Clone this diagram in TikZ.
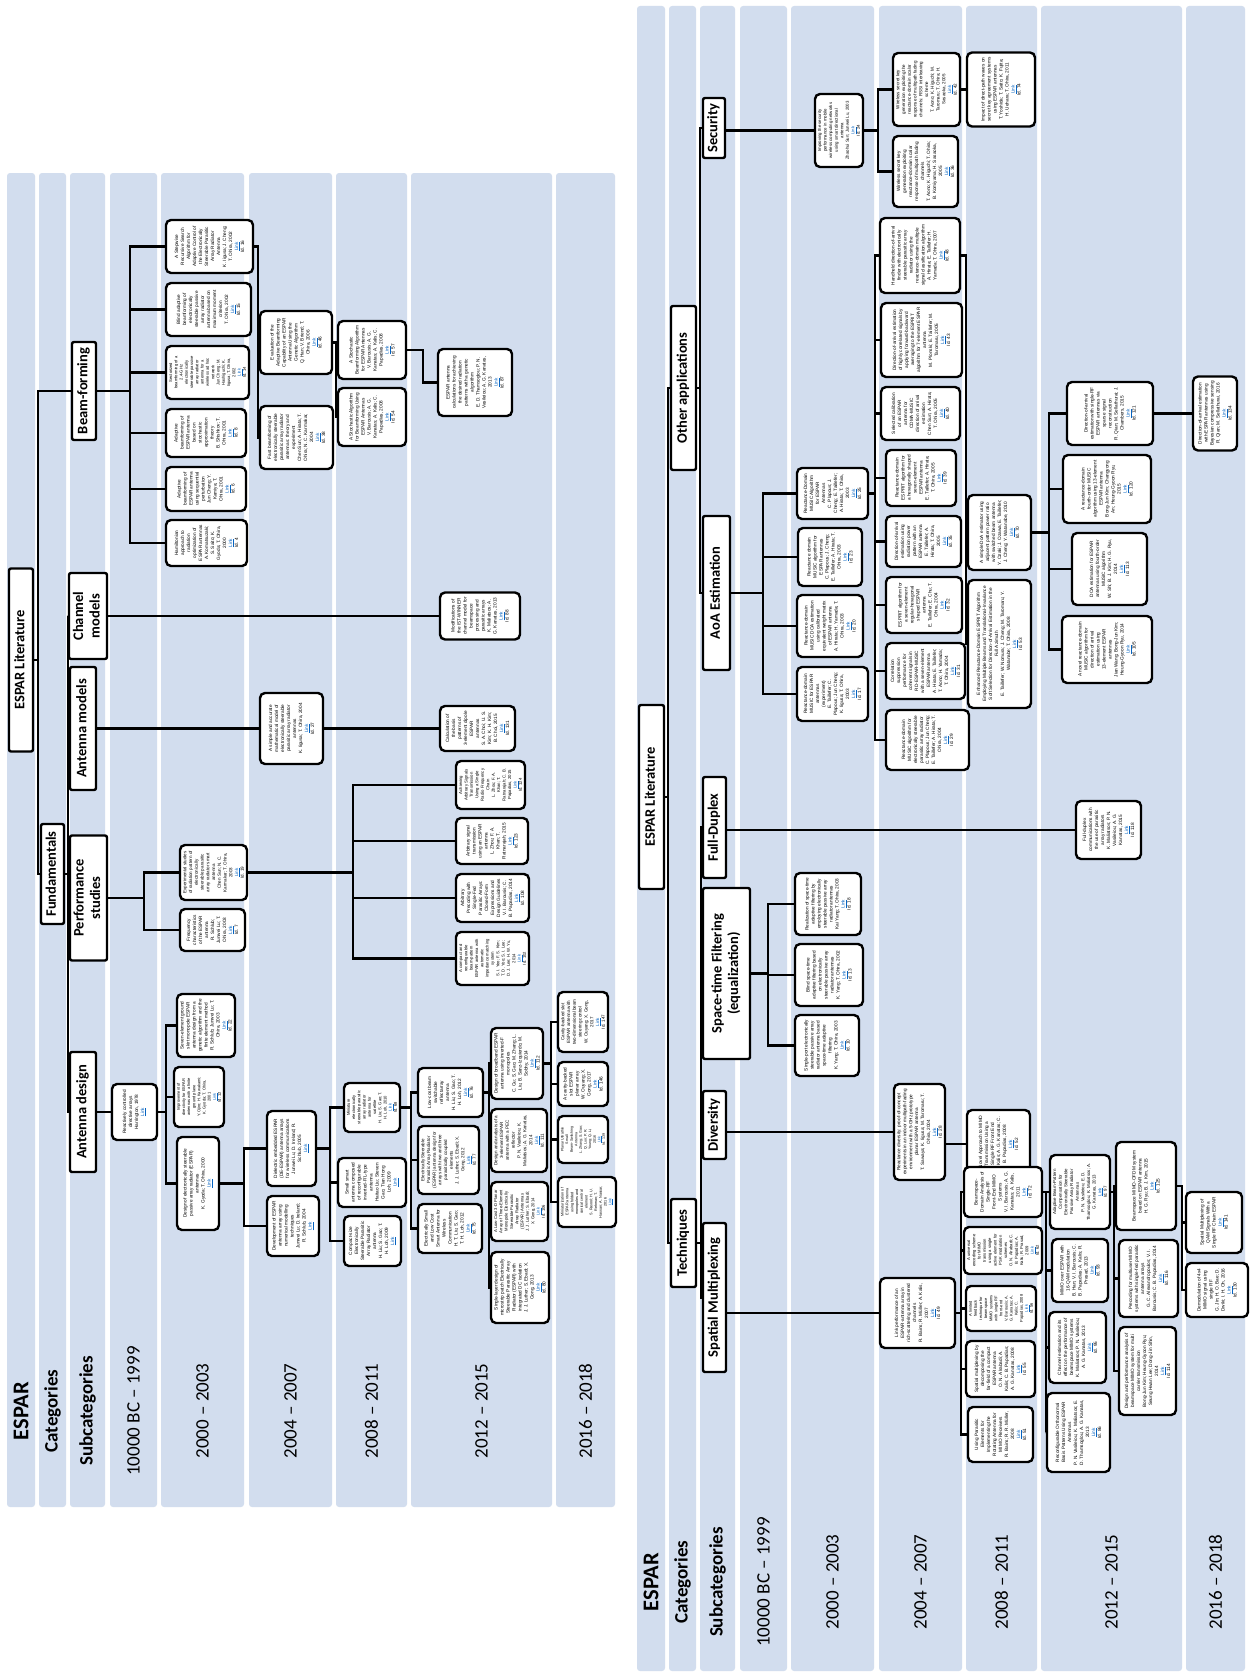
\documentclass[tikz,border=0pt]{standalone}
\usepackage{fontspec}
\setmainfont{Liberation Sans}
\newfontfamily\calib{Carlito}
\usepackage{graphicx}
\definecolor{stripblue}{RGB}{210,221,238}
\definecolor{linkblue}{RGB}{5,99,193}
\newcommand{\leaffont}{\fontsize{4.7}{6.0}\selectfont}
\newsavebox{\pubsbox}
\newcommand{\pubbox}[8]{%
\node[leaf,minimum width=#4,minimum height=#5] (#1) at (#2,#3) {%
\sbox{\pubsbox}{\parbox{\dimexpr #5pt-9pt\relax}{\centering\leaffont #6\par #7\par\textcolor{linkblue}{\underline{Link}}\par #8}}%
\ifdim\dimexpr\ht\pubsbox+\dp\pubsbox\relax>\dimexpr #4pt-6pt\relax
\sbox{\pubsbox}{\resizebox*{!}{\dimexpr #4pt-6pt\relax}{\usebox{\pubsbox}}}\fi
\rotatebox{90}{\usebox{\pubsbox}}};}
\newcommand{\hdrbox}[6]{\node[hdr,minimum width=#4,minimum height=#5] (#1) at (#2,#3) {\rotatebox{90}{\begin{tabular}{@{}c@{}}#6\end{tabular}}};}
\newcommand{\branch}[3]{\foreach \ch in {#3}{\draw[conn] (#1.east) -- ++(#2,0) |- (\ch.west);}}
\newcommand{\straight}[2]{\draw[conn] (#2.west) -- (#2.west -| #1.east);}
\newcommand{\strips}[3]{\foreach \a/\b in {7/35,39/66,70/105,110/157,161/244,249/332,336/407,411/552,556/615}{\fill[stripblue,rounded corners=3] (\a+#1,#2) rectangle (\b+#1,#3);}}
\newcommand{\labels}[2]{%
\node[lblbig] (espar#1) at (21+#1,#2) {ESPAR};
\node[lblbold] (cat#1) at (52.5+#1,#2) {Categories};
\node[lblbold] (sub#1) at (87.5+#1,#2) {Subcategories};
\node[lblyear] (y0#1) at (133.5+#1,#2) {10000 BC – 1999};
\node[lblyear] (y1#1) at (202.5+#1,#2) {2000 – 2003};
\node[lblyear] (y2#1) at (290.5+#1,#2) {2004 – 2007};
\node[lblyear] (y3#1) at (371.5+#1,#2) {2008 – 2011};
\node[lblyear] (y4#1) at (481.5+#1,#2) {2012 – 2015};
\node[lblyear] (y5#1) at (585.5+#1,#2) {2016 – 2018};}
\tikzset{
 leaf/.style={draw,line width=2.4,rounded corners=5,fill=white,inner sep=0pt},
 hdr/.style={draw,line width=2.4,rounded corners=2,fill=white,inner sep=0pt,font=\calib\bfseries\fontsize{14.5}{16.5}\selectfont},
 conn/.style={line width=2.2},
 lblbig/.style={rotate=90,inner sep=0pt,font=\calib\bfseries\fontsize{22.5}{24}\selectfont},
 lblbold/.style={rotate=90,inner sep=0pt,font=\calib\bfseries\fontsize{19}{21}\selectfont},
 lblyear/.style={rotate=90,inner sep=0pt,font=\calib\fontsize{19}{21}\selectfont}
}
\begin{document}
\begin{tikzpicture}[x=1pt,y=-1pt]
\useasboundingbox (0,0) rectangle (1258,1675);
\fill[white] (0,0) rectangle (1258,1675);
\strips{0}{173}{1507}
\strips{630}{6}{1671}
\labels{0}{1411}
\labels{630}{1582}

% ---------------- LEFT PANEL ----------------
\hdrbox{L0}{21}{660}{24}{183}{ESPAR Literature}
\hdrbox{Lfund}{52.5}{874}{23}{100}{Fundamentals}
\hdrbox{Lbeam}{84}{391}{24}{98}{Beam-forming}
\hdrbox{Lchan}{88}{616}{38}{86}{Channel\\models}
\hdrbox{Lantm}{83}{728.5}{26}{123}{Antenna models}
\hdrbox{Lperf}{88.5}{898}{37}{125}{Performance\\studies}
\hdrbox{Ldes}{83}{1112}{26}{120}{Antenna design}

\pubbox{b16}{209.5}{246.5}{87}{53}{A Stepwise Recursive Search Algorithm for Adaptive Control of the Electronically Steerable Parasitic Array Radiator Antenna}{K. Iigusa; J. Cheng; T. Ohira, 2002}{Id. 16}
\pubbox{b15}{208.5}{309.5}{85}{53}{Blind adaptive beamforming of electronically steerable passive array radiator antenna based on maximum moment criterion}{T. Ohira, 2002}{Id. 15}
\pubbox{b14}{207.5}{372.5}{83}{53}{Sectorized beamforming of a 2.4-GHz electronically steerable passive array radiator antenna for a wireless ad hoc network}{Jun Cheng; M. Hashiguchi; K. Iigusa; T. Ohira, 2002}{Id. 14}
\pubbox{b8}{206}{433}{80}{48}{Adaptive beamforming of ESPAR antenna based on stochastic approximation theory}{B. Shishkov; T. Ohira, 2001}{Id. 8}
\pubbox{b6}{206}{489}{80}{44}{Adaptive beamforming of ESPAR antenna using sequential perturbation}{Jun Cheng; Y. Kamiya; T. Ohira, 2001}{Id. 6}
\pubbox{b4}{206.5}{543}{81}{46}{Hamiltonian approach to radiation optimization of ESPAR antennas}{A. Komatsuzaki; S. Saito; K. Gyoda; T. Ohira, 2000}{Id. 4}
\pubbox{b46}{296}{342.5}{72}{63}{Evaluation of the Adaptive Beamforming Capability of an ESPAR Antenna Using the Genetic Algorithm}{Q. Han; V. Briend; T. Ohira, 2006}{Id. 46}
\pubbox{b38}{296.5}{437.5}{73}{63}{Fast beamforming of electronically steerable parasitic array radiator antennas: theory and experiment}{Chen Sun; A. Hirata; T. Ohira; N. C. Karmakar, 2004}{Id. 38}
\pubbox{b57}{372}{350}{68}{58}{A Stochastic Beamforming Algorithm for ESPAR Antennas}{V. Barousis; A. G. Kanatas; A. Kalis; C. Papadias, 2008}{Id. 57}
\pubbox{b54}{372}{417}{68}{58}{A Stochastic Algorithm for Beamforming Using ESPAR Antennas}{V. Barousis; A. G. Kanatas; A. Kalis; C. Papadias, 2008}{Id. 54}
\pubbox{b87}{475}{382.5}{74}{67}{ESPAR antenna calculations for achieving the desired radiation patterns with a genetic algorithm}{E. D. Thamsoglou; P. N. Vasileiou; A. G. Kanatas, 2013}{Id. 87}

\pubbox{c88}{480}{616}{80}{47}{Modifications of the IST-WINNER channel model for beamspace processing and parasitic arrays}{K. Maliatsos; A. G. Kanatas, 2013}{Id. 88}

\pubbox{m27}{291.5}{728.5}{63}{71}{A simple and accurate mathematical model of electronically steerable parasitic array radiator antennas}{K. Iigusa; T. Ohira, 2004}{Id. 27}
\pubbox{m131}{477.5}{728.5}{75}{45}{Calculation of the basis patterns of 3-element dipole ESPAR antennas}{S. A. Choi; U. S. Kim; K. H. Kim; B. Choi, 2015}{Id. 131}

\pubbox{p19}{213.5}{872.5}{67}{55}{Experimental studies of radiation pattern of electronically steerable parasitic array radiator smart antenna}{Chen Sun; N. C. Karmakar; T. Ohira, 2003}{Id. 19}
\pubbox{p7}{212.5}{930}{65}{42}{Frequency characteristics of the ESPAR antenna}{R. Schlub; Junwei Lu; T. Ohira, 2003}{Id. 7}
\pubbox{p124}{490.5}{785}{69}{48}{Achieving Arbitrary Signals Transmission Using a Single Radio Frequency Chain}{L. Zhou; F. A. Khan; T. Ratnarajah; C. B. Papadias, 2015}{Id. 124}
\pubbox{p123}{492}{841}{72}{46}{Arbitrary signal transmission using an ESPAR antenna}{L. Zhou; F. A. Khan; T. Ratnarajah, 2015}{Id. 123}
\pubbox{p108}{492.5}{898}{73}{48}{Arbitrary Precoding with Single-Fed Parasitic Arrays: Closed-Form Expressions and Design Guidelines}{V. I. Barousis; C. B. Papadias, 2014}{Id. 108}
\pubbox{p102}{492.5}{958.5}{73}{53}{A compact and reconfigurable beam-pattern ESPAR antenna with automatic impedance matching system}{S. I. Yeo; F. S. Kim; T. D. Yoo; S. I. Lee; D. J. Lee; H. W. Yu, 2014}{Id. 102}

\pubbox{d0}{134.5}{1112}{45}{56}{Reactively controlled directive arrays}{Harrington, 1978}{}
\pubbox{d22}{206}{1025.5}{58}{63}{Seven-element ground skirt monopole ESPAR antenna design from a genetic algorithm and the finite element method}{R. Schlub; Junwei Lu; T. Ohira, 2003}{Id. 22}
\pubbox{d12}{199}{1097}{50}{60}{Improvement of directivity for ESPAR antennas with a finite ground plane}{Y. Ojiro; H. Kawakami; K. Gyoda; T. Ohira, 2001}{Id. 12}
\pubbox{d1}{198}{1183.5}{42}{93}{Design of electronically steerable passive array radiator (ESPAR) antennas}{K. Gyoda; T. Ohira, 2000}{}
\pubbox{d2a}{291.5}{1148.5}{49}{75}{Dielectric embedded ESPAR (DE-ESPAR) antenna arrays for wireless communications}{Junwei Lu; D. Ireland; R. Schlub, 2005}{}
\pubbox{d2b}{293}{1226}{52}{60}{Development of ESPAR antenna array using numerical modelling techniques}{Junwei Lu; D. Ireland; R. Schlub, 2004}{}
\pubbox{d68}{372}{1107.5}{56}{49}{Miniature electronically steerable parasitic array radiator antenna for satellite}{H. Liu; S. Gao; T. H. Loh, 2010}{Id. 68}
\pubbox{d3b}{372}{1182.5}{68}{49}{Small smart antenna composed of reconfigurable inverted-F/L-type antenna}{Haitao Liu; Steven Gao; Tian Hong Loh, 2009}{}
\pubbox{d3c}{372.5}{1241}{57}{50}{Compact-size Electronically Steerable Parasitic Array Radiator antenna}{H. Liu; S. Gao; T. H. Loh, 2009}{}
\pubbox{d76}{450.5}{1092.5}{65}{49}{Low-cost beam switchable reflectarray antenna}{H. Liu; S. Gao; T. H. Loh, 2012}{Id. 76}
\pubbox{d77}{448.5}{1160}{61}{68}{Electrically Steerable Parasitic Array Radiator (ESPAR) antenna design for arrays with two and three parasitically coupled elements}{J. J. Luther; S. Ebadi; X. Gong, 2012}{Id. 77}
\pubbox{d75}{450}{1228.5}{64}{49}{Electrically Small and Low Cost Smart Antenna for Wireless Communication}{H. T. Liu; S. Gao; T. H. Loh, 2012}{Id. 75}
\pubbox{d112}{517}{1063.5}{52}{71}{Design of broadband ESPAR antenna using inverted-F monopoles}{C. Gu; S. Gao; M. Zhang; L. Liu; B. Sanz-Izquierdo; M. Sobhy, 2014}{Id. 112}
\pubbox{d111}{519}{1140.5}{56}{63}{Design and analysis of a 3-element ESPAR antenna with a PEC reflector}{P. N. Vasileiou; K. Maliatsos; A. G. Kanatas, 2014}{Id. 111}
\pubbox{d106}{519.5}{1211.5}{57}{59}{A Low-Cost 3-D Planar Array of Three-Element Monopole Electrically Steerable Parasitic Array Radiator (ESPAR) Antennas}{J. J. Luther; S. Ebadi; X. Gong, 2014}{Id. 106}
\pubbox{d80}{520}{1287.5}{58}{71}{Single-layer design of microstrip patch Electrically Steerable Parasitic Array Radiator (ESPAR) with integrated DC isolation}{J. J. Luther; S. Ebadi; X. Gong, 2013}{Id. 80}
\pubbox{d147}{583}{1022}{50}{60}{Cavity-backed slot ESPAR antenna with two-dimensional beam steering control}{W. Ouyang; X. Gong, 2017}{Id. 147}
\pubbox{d146}{583}{1084}{50}{44}{A cavity-backed slot ESPAR planar array}{W. Ouyang; X. Gong, 2017}{Id. 146}
\pubbox{d139}{583}{1139.5}{50}{47}{Planar Ultrathin Small Beam-Switching Antenna}{L. Zhang; S. Gao; Q. Luo; P. R. Young; Q. Li, 2016}{Id. 139}
\pubbox{dmini}{587}{1202}{58}{50}{Miniaturization of ESPAR antenna using folded monopoles and conical central element}{S. Rasool; H. U. Rehman; T. Hassan; A. Nassar, 2016}{}

% left connectors
\branch{L0}{4}{Lbeam,Lfund}
\branch{Lfund}{3}{Lchan,Lantm,Lperf,Ldes}
\branch{Lbeam}{33}{b16,b15,b14,b8,b6,b4}
\branch{b16}{4}{b46,b38}
\branch{b46}{2.5}{b57,b54}
\branch{b57}{16}{b87}
\straight{Lchan}{c88}
\straight{Lantm}{m27}
\straight{m27}{m131}
\branch{Lperf}{36}{p19,p7}
\branch{p19}{105}{p124,p123,p108,p102}
\straight{Ldes}{d0}
\branch{d0}{8}{d22,d12,d1}
\branch{d1}{24}{d2a,d2b}
\branch{d2a}{13}{d68,d3b,d3c}
\branch{d68}{10}{d76,d77,d75}
\branch{d76}{5}{d112,d111,d106,d80}
\branch{d112}{7}{d147,d146,d139,dmini}

% ---------------- RIGHT PANEL ----------------
\hdrbox{R0}{651.5}{797}{25}{184}{ESPAR Literature}
\hdrbox{Rtech}{683.5}{1243}{25}{88}{Techniques}
\hdrbox{Roth}{683.5}{388}{25}{164}{Other applications}
\hdrbox{Rsec}{714}{128}{22}{60}{Security}
\hdrbox{Raoa}{716.5}{593}{27}{154}{AoA Estimation}
\hdrbox{Rfd}{714.5}{827.5}{23}{101}{Full-Duplex}
\hdrbox{Rstf}{726.5}{973.5}{47}{171}{Space-time Filtering\\(equalization)}
\hdrbox{Rdiv}{714.5}{1125}{23}{68}{Diversity}
\hdrbox{Rsm}{714.5}{1297.5}{23}{149}{Spatial Multiplexing}

\pubbox{s34}{839}{130.5}{48}{73}{Improving the security performance in mobile wireless computing networks using smart directional antenna}{Zhaohui Sun; Junwei Lu, 2003}{Id. 24}
\pubbox{s42}{926.5}{89.5}{67}{73}{Wireless secret key generation exploiting the reactance-domain scalar response of multipath fading channels: RSSI interleaving scheme}{T. Aono; K. Higuchi; M. Taromaru; T. Ohira; H. Sasaoka, 2005}{Id. 42}
\pubbox{s36}{925.5}{171.5}{65}{71}{Wireless secret key generation exploiting reactance-domain scalar response of multipath fading channels}{T. Aono; K. Higuchi; T. Ohira; B. Komiyama; H. Sasaoka, 2005}{Id. 36}
\pubbox{s74}{1001}{89.5}{68}{74}{Impact of direct-path waves on secret key agreement systems using ESPAR antennas}{T. Yoshida; T. Saito; K. Fujita; H. Uehara; T. Ohira, 2011}{Id. 74}

\pubbox{a25}{832.5}{493.5}{71}{51}{Reactance-Domain MUSIC Algorithm for ESPAR Antennas}{C. Plapous; J. Cheng; E. Taillefer; A. Hirata; T. Ohira, 2003}{Id. 25}
\pubbox{a23}{830}{557}{64}{58}{Reactance domain MUSIC algorithm for ESPAR antennas}{C. Plapous; J. Cheng; E. Taillefer; A. Hirata; T. Ohira, 2003}{Id. 23}
\pubbox{a20}{830}{626}{66}{62}{Reactance-domain MUSIC DOA estimation using calibrated equivalent weight matrix of ESPAR antenna}{A. Hirata; H. Yamada; T. Ohira, 2003}{Id. 20}
\pubbox{a17}{832.5}{694}{71}{54}{Reactance-domain MUSIC for ESPAR antennas (experiment)}{E. Taillefer; C. Plapous; Jun Cheng; K. Iigusa; T. Ohira, 2003}{Id. 17}
\pubbox{a48}{920}{255.5}{80}{75}{Handheld direction-of-arrival finder with electronically steerable parasitic array radiator using the reactance-domain multiple signal classification algorithm}{A. Hirata; E. Taillefer; H. Yamada; T. Ohira, 2007}{Id. 48}
\pubbox{a43}{921.5}{340}{81}{74}{Direction-of-arrival estimation of highly correlated signals by applying forward-backward averaging to the ESPRIT algorithm for 7-element ESPAR antenna}{M. Plonski; E. Taillefer; M. Taromaru, 2005}{Id. 43}
\pubbox{a40}{920.5}{413.5}{79}{53}{Selected calibration of an ESPAR antenna for CDMA-MUSIC direction of arrival estimation}{Chen Sun; A. Hirata; T. Ohira, 2005}{Id. 40}
\pubbox{a39}{921}{478}{70}{56}{Reactance-domain ESPRIT algorithm for a hexagonally shaped seven-element ESPAR antenna}{E. Taillefer; A. Hirata; T. Ohira, 2005}{Id. 39}
\pubbox{a35}{923.5}{541.5}{75}{51}{Direction-of-arrival estimation using radiation power pattern with an ESPAR antenna}{E. Taillefer; A. Hirata; T. Ohira, 2005}{Id. 35}
\pubbox{a32}{924}{605}{76}{56}{ESPRIT algorithm for a seven-element regular-hexagonal shaped ESPAR antenna}{E. Taillefer; E. Chu; T. Ohira, 2004}{Id. 32}
\pubbox{a31}{925.5}{671}{79}{56}{Correlation suppression performance for coherent signals in RD-ESPAR-MUSIC with a seven-element ESPAR antenna}{A. Hirata; E. Taillefer; T. Aono; H. Yamada; T. Ohira, 2004}{Id. 31}
\pubbox{a29}{927.5}{740}{83}{60}{Reactance-domain MUSIC algorithm for electronically steerable parasitic array radiator}{C. Plapous; Jun Cheng; E. Taillefer; A. Hirata; T. Ohira, 2004}{Id. 29}
\pubbox{a70}{999.5}{532.5}{63}{75}{A simple DoA estimator using adjacent pattern power ratio with switched beam antenna}{Y. Ozaki; J. Ozawa; E. Taillefer; J. Cheng; Y. Watanabe, 2010}{Id. 70}
\pubbox{a53}{999.5}{644}{63}{128}{Enhanced Reactance-Domain ESPRIT Algorithm Employing Multiple Beams and Translational-Invariance Soft Selection for Direction-of-Arrival Estimation in the Full Azimuth}{E. Taillefer; W. Nomura; J. Cheng; M. Taromaru; Y. Watanabe; T. Ohira, 2008}{Id. 53}
\pubbox{a121}{1110}{413.5}{86}{63}{Direction-of-arrival estimation with single-RF ESPAR antennas via sparse signal reconstruction}{R. Qian; M. Sellathurai; J. Chambers, 2015}{Id. 121}
\pubbox{a120}{1107}{489}{88}{68}{A reactance-domain fourth-order MUSIC algorithm using 13-element ESPAR antenna}{Bong-Jun Kim; Changyong An; Heung-Gyoon Ryu, 2015}{Id. 120}
\pubbox{a113}{1109.5}{569}{75}{72}{DOA estimation for ESPAR antennas using fourth-order MUSIC algorithm}{W. Shi; B. J. Kim; H. G. Ryu, 2014}{Id. 113}
\pubbox{a105}{1107}{649.5}{90}{67}{A novel reactance-domain MUSIC algorithm for direction of arrival estimation using 13-element ESPAR antennas}{Jian Wang; Bong-Jun Kim; Heung-Gyoon Ryu, 2014}{Id. 105}
\pubbox{a134}{1215}{413.5}{44}{74}{Direction-of-arrival estimation with ESPAR antennas using Bayesian compressive sensing}{R. Qian; M. Sellathurai, 2016}{Id. 134}

\pubbox{f118}{1108.5}{830}{65}{58}{Full-duplex communications with the use of parasitic array radiators}{K. Maliatsos; P. N. Vasileiou; A. G. Kanatas, 2015}{Id. 118}

\pubbox{t18}{828}{904}{66}{62}{Realization of space-time adaptive filtering by employing electronically steerable passive array radiator antennas}{Kai Yang; T. Ohira, 2003}{Id. 18}
\pubbox{t13}{829}{975}{68}{62}{Blind space-time adaptive filtering based on electronically steerable passive array radiator antennas}{K. Yang; T. Ohira, 2002}{Id. 13}
\pubbox{t10}{827}{1045.5}{64}{61}{Single-port electronically steerable passive array radiator antenna based space-time adaptive filtering}{K. Yang; T. Ohira, 2003}{Id. 10}

\pubbox{v28}{919.5}{1132}{51}{96}{Reactance diversity: proof-of-concept experiments in an indoor multipath-fading environment with a 5-GHz prototype planar ESPAR antenna}{T. Sawaya; K. Iigusa; M. Taromaru; T. Ohira, 2004}{Id. 28}
\pubbox{v52}{998.5}{1144}{63}{68}{A Novel Approach to MIMO Transmission Using a Single RF Front End}{A. Kalis; A. G. Kanatas; C. B. Papadias, 2008}{Id. 52}

\pubbox{x49}{917.5}{1313}{75}{70}{Link performance of an ESPAR-antenna array in rich-scattering and clustered channels}{R. Bains; R. Müller; A. Kalis, 2007}{Id. 49}
\pubbox{x72}{1003}{1192}{78}{50}{Beamspace-Domain Analysis of Single-RF Front-End MIMO Systems}{V. I. Barousis; A. G. Kanatas; A. Kalis, 2011}{Id. 72}
\pubbox{x62}{1003}{1250.5}{78}{47}{A universal encoding scheme for MIMO transmission using a single active element for PSK modulation schemes}{O. N. Alrabadi; C. B. Papadias; A. Kalis; R. Prasad, 2009}{Id. 62}
\pubbox{x56}{1001}{1308.5}{70}{45}{A limited feedback technique for beamspace MIMO systems with single RF front-end}{V. Barousis; A. G. Kanatas; A. Kalis; C. Papadias, 2008}{Id. 56}
\pubbox{x55}{1000.5}{1369}{69}{56}{Spatial multiplexing by decomposing the far-field of a compact ESPAR antenna}{O. N. Alrabadi; A. Kalis; C. B. Papadias; A. G. Kanatas, 2008}{Id. 55}
\pubbox{x51}{1000.5}{1434.5}{65}{55}{Using Parasitic Elements for Implementing the Rotating Antenna for MIMO Receivers}{R. Bains; R. R. Müller, 2008}{Id. 51}
\pubbox{x97}{1080}{1192}{60}{74}{Adaptive Beam-Pattern Compensation for Electronically Steerable Passive Array Radiator Antennas}{P. N. Vasileiou; E. D. Thamsoglou; K. Maliatsos; A. G. Kanatas, 2013}{Id. 97}
\pubbox{x93}{1080}{1270.5}{56}{63}{MIMO over ESPAR with 16-QAM modulation}{B. Han; V. I. Barousis; C. B. Papadias; A. Kalis; R. Prasad, 2013}{Id. 93}
\pubbox{x95}{1077.5}{1347.5}{57}{71}{Channel estimation and its effect on the performance of beamspace MIMO systems}{K. Maliatsos; P. N. Vasileiou; A. G. Kanatas, 2013}{Id. 95}
\pubbox{x86}{1078.5}{1432.5}{63}{79}{Reconfigurable Orthonormal Basis Patterns Using ESPAR Antennas}{P. N. Vasileiou; K. Maliatsos; E. D. Thamsoglou; A. G. Kanatas, 2013}{Id. 86}
\pubbox{x125}{1146}{1186}{60}{88}{Beamspace MIMO-OFDM system based on ESPAR antenna}{H. G. Ryu; B. J. Kim, 2015}{Id. 125}
\pubbox{x116}{1148.5}{1278.5}{59}{77}{Precoding for multiuser MIMO systems with single-fed parasitic antenna arrays}{G. C. Alexandropoulos; V. I. Barousis; C. B. Papadias, 2014}{Id. 116}
\pubbox{x114}{1147.5}{1371}{57}{88}{Design and performance analysis of beamspace MIMO system for multi carrier transmission}{Bong-Jun Kim; Heung-Gyoon Ryu; Seung Hwan Lee; Dong-Jin Shin, 2014}{Id. 114}
\pubbox{x141}{1214}{1222.5}{56}{61}{Spatial Multiplexing of QAM Signals With a Single RF Chain ESPAR}{}{Id. 141}
\pubbox{x130}{1217}{1290}{62}{54}{Demodulation of 4x4 MIMO signal using single RF}{G. Jin; H. O. Bae; D. Dwiki; I. H. Oh, 2016}{Id. 130}

% right connectors
\branch{R0}{3}{Roth,Rtech}
\branch{Roth}{3}{Rsec,Raoa}
\branch{Rtech}{3.5}{Rfd,Rstf,Rdiv,Rsm}
\straight{Rsec}{s34}
\branch{s34}{14}{s42,s36}
\straight{s42}{s74}
\branch{Raoa}{32}{a25,a23,a20,a17}
\branch{a25}{6}{a48,a43,a40,a39,a35,a32,a31,a29}
\branch{a48}{5}{a70,a53}
\branch{a70}{17}{a121,a120,a113,a105}
\straight{a121}{a134}
\straight{Rfd}{f118}
\branch{Rstf}{17}{t18,t13,t10}
\straight{Rdiv}{v28}
\straight{v28}{v52}
\straight{Rsm}{x49}
\branch{x49}{5}{x72,x62,x56,x55,x51}
\branch{x72}{3}{x97,x93,x95,x86}
\branch{x97}{3}{x125,x116,x114}
\branch{x125}{5}{x141,x130}
\end{tikzpicture}
\end{document}
